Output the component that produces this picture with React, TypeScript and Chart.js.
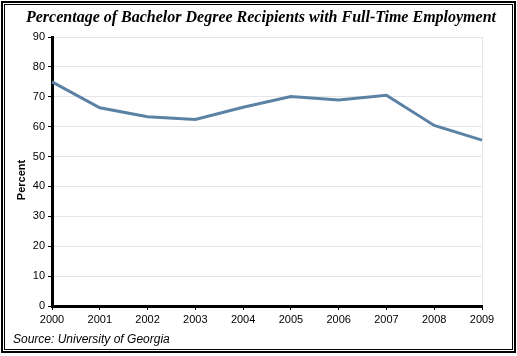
import React, { useEffect, useRef } from "react";
import { Chart, registerables } from "chart.js";

Chart.register(...registerables);

const years = ["2000", "2001", "2002", "2003", "2004", "2005", "2006", "2007", "2008", "2009"];
const percentEmployed = [75.0, 66.3, 63.3, 62.4, 66.5, 70.1, 68.9, 70.5, 60.4, 55.5];
const titleText = "Percentage of Bachelor Degree Recipients with Full-Time Employment";
const sourceText = "Source: University of Georgia";
const yAxisLabel = "Percent";

const textPlugin = {
  id: "textPlugin",
  afterDraw(chart: any) {
    const ctx = chart.ctx;
    ctx.save();
    ctx.fillStyle = "#000";
    ctx.font = "bold italic 16px 'Liberation Serif', 'Times New Roman', serif";
    ctx.textAlign = "center";
    ctx.textBaseline = "alphabetic";
    ctx.fillText(titleText, 261, 22);
    ctx.font = "italic 12px 'Liberation Sans', Arial, sans-serif";
    ctx.textAlign = "left";
    ctx.fillText(sourceText, 13, 343);
    ctx.translate(22, 180);
    ctx.rotate(-Math.PI / 2);
    ctx.font = "bold 11px 'Liberation Sans', Arial, sans-serif";
    ctx.textAlign = "center";
    ctx.textBaseline = "middle";
    ctx.fillText(yAxisLabel, 0, 0);
    ctx.restore();
  },
};

export default function App() {
  const ref = useRef<HTMLCanvasElement>(null);
  useEffect(() => {
    document.body.style.margin = "0";
    const chart = new Chart(ref.current!, {
      type: "line",
      data: {
        labels: years,
        datasets: [
          {
            data: percentEmployed,
            borderColor: "#5b82a5",
            borderWidth: 3,
            pointRadius: 0,
            tension: 0,
            fill: false,
          },
        ],
      },
      options: {
        responsive: false,
        animation: false,
        layout: { padding: { top: 37, bottom: 25, left: 0, right: 35 } },
        plugins: { legend: { display: false }, tooltip: { enabled: false }, title: { display: false } },
        scales: {
          x: {
            afterFit: (s: any) => {
              s.height = 25;
            },
            grid: {
              color: (c: any) => (c.index === years.length - 1 ? "#e6e6e6" : "rgba(0,0,0,0)"),
              tickColor: "#000",
              tickLength: 4,
              lineWidth: 1,
            },
            border: { color: "#000", width: 3 },
            ticks: {
              color: "#000",
              font: { family: "'Liberation Sans', Arial, sans-serif", size: 11 },
              padding: 3,
              maxRotation: 0,
              autoSkip: false,
            },
          },
          y: {
            min: 0,
            max: 90,
            afterFit: (s: any) => {
              s.width = 52;
            },
            grid: { color: "#e6e6e6", tickColor: "#000", tickLength: 4, lineWidth: 1 },
            border: { color: "#000", width: 3 },
            ticks: {
              stepSize: 10,
              color: "#000",
              font: { family: "'Liberation Sans', Arial, sans-serif", size: 11 },
              padding: 3,
            },
          },
        },
      },
      plugins: [textPlugin],
    });
    return () => chart.destroy();
  }, []);
  return (
    <div style={{ position: "fixed", left: 0, top: 0, width: 517, height: 356, background: "#fff" }}>
      <canvas ref={ref} width={517} height={356} style={{ position: "absolute", left: 0, top: 0, width: 517, height: 356 }} />
      <div
        style={{
          position: "absolute",
          left: 1,
          top: 1,
          width: 515,
          height: 352,
          border: "2px solid #000",
          boxSizing: "border-box",
          pointerEvents: "none",
        }}
      />
      <div
        style={{
          position: "absolute",
          left: 4,
          top: 4,
          width: 509,
          height: 346,
          border: "1px solid #000",
          boxSizing: "border-box",
          pointerEvents: "none",
        }}
      />
    </div>
  );
}
